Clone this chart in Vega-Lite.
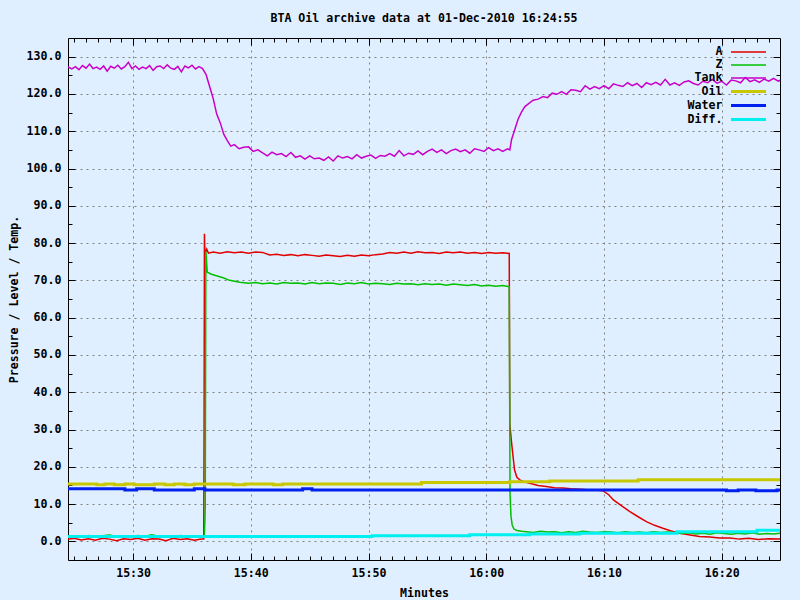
{
"$schema": "https://vega.github.io/schema/vega-lite/v6.json",
"autosize": {"type": "none"},
"width": 712, "height": 522,
"padding": {"left": 68, "top": 38, "right": 20, "bottom": 40},
"background": "#e0efff",
"title": {"text": "BTA Oil archive data at 01-Dec-2010 16:24:55", "font": "DejaVu Sans Mono", "fontSize": 11.6, "fontWeight": "bold", "color": "black", "offset": 4, "baseline": "alphabetic", "anchor": "middle"},
"config": {
  "view": {"stroke": null},
  "axis": {"domainColor": "black", "domainWidth": 1, "tickColor": "black", "tickWidth": 1,
    "labelFont": "DejaVu Sans Mono", "labelFontSize": 11.6, "labelFontWeight": "bold", "labelColor": "black",
    "titleFont": "DejaVu Sans Mono", "titleFontSize": 11.6, "titleFontWeight": "bold", "titleColor": "black",
    "gridColor": "#808080", "gridDash": [2, 4], "gridWidth": 1,
    "labelOverlap": false, "labelBound": false, "labelFlush": false}
},
"data": {"values": [
{"s":"A","m":24.4,"v":0.5},{"s":"A","m":25.0,"v":0.8},{"s":"A","m":25.6,"v":0.4},{"s":"A","m":26.2,"v":0.7},{"s":"A","m":26.8,"v":0.3},{"s":"A","m":27.4,"v":0.8},{"s":"A","m":28.0,"v":0.6},{"s":"A","m":28.6,"v":0.2},{"s":"A","m":29.2,"v":0.7},{"s":"A","m":29.8,"v":0.5},{"s":"A","m":30.4,"v":0.8},{"s":"A","m":31.0,"v":0.3},{"s":"A","m":31.6,"v":0.7},{"s":"A","m":32.2,"v":0.6},{"s":"A","m":32.8,"v":0.2},{"s":"A","m":33.4,"v":0.8},{"s":"A","m":34.0,"v":0.5},{"s":"A","m":34.6,"v":0.7},{"s":"A","m":35.2,"v":0.3},{"s":"A","m":35.8,"v":0.6},{"s":"A","m":36.0,"v":0.6},{"s":"A","m":36.03,"v":30.0},{"s":"A","m":36.06,"v":82.5},{"s":"A","m":36.1,"v":76.9},{"s":"A","m":36.25,"v":78.4},{"s":"A","m":36.4,"v":77.3},{"s":"A","m":36.8,"v":77.6},{"s":"A","m":37.4,"v":77.3},{"s":"A","m":38.0,"v":77.7},{"s":"A","m":38.6,"v":77.4},{"s":"A","m":39.2,"v":77.6},{"s":"A","m":39.8,"v":77.3},{"s":"A","m":40.4,"v":77.6},{"s":"A","m":41.0,"v":77.5},{"s":"A","m":41.6,"v":76.8},{"s":"A","m":42.2,"v":77.0},{"s":"A","m":42.8,"v":76.7},{"s":"A","m":43.4,"v":76.9},{"s":"A","m":44.0,"v":76.6},{"s":"A","m":44.6,"v":76.9},{"s":"A","m":45.2,"v":76.7},{"s":"A","m":45.8,"v":76.5},{"s":"A","m":46.4,"v":76.8},{"s":"A","m":47.0,"v":76.6},{"s":"A","m":47.6,"v":76.4},{"s":"A","m":48.2,"v":76.7},{"s":"A","m":48.8,"v":76.5},{"s":"A","m":49.4,"v":76.8},{"s":"A","m":50.0,"v":76.6},{"s":"A","m":50.6,"v":76.9},{"s":"A","m":51.2,"v":77.1},{"s":"A","m":51.8,"v":77.5},{"s":"A","m":52.4,"v":77.3},{"s":"A","m":53.0,"v":77.6},{"s":"A","m":53.6,"v":77.3},{"s":"A","m":54.2,"v":77.7},{"s":"A","m":54.8,"v":77.4},{"s":"A","m":55.4,"v":77.5},{"s":"A","m":56.0,"v":77.2},{"s":"A","m":56.6,"v":77.6},{"s":"A","m":57.2,"v":77.4},{"s":"A","m":57.8,"v":77.6},{"s":"A","m":58.4,"v":77.3},{"s":"A","m":59.0,"v":77.5},{"s":"A","m":59.6,"v":77.2},{"s":"A","m":60.2,"v":77.5},{"s":"A","m":60.8,"v":77.3},{"s":"A","m":61.4,"v":77.4},{"s":"A","m":61.95,"v":77.2},{"s":"A","m":62.0,"v":31.3},{"s":"A","m":62.15,"v":26.4},{"s":"A","m":62.4,"v":19.2},{"s":"A","m":62.6,"v":17.2},{"s":"A","m":62.85,"v":16.5},{"s":"A","m":63.3,"v":15.9},{"s":"A","m":63.7,"v":15.6},{"s":"A","m":64.4,"v":15.0},{"s":"A","m":65.1,"v":14.7},{"s":"A","m":65.8,"v":14.4},{"s":"A","m":66.5,"v":14.3},{"s":"A","m":67.2,"v":14.1},{"s":"A","m":68.0,"v":14.0},{"s":"A","m":68.8,"v":13.8},{"s":"A","m":69.5,"v":13.7},{"s":"A","m":69.9,"v":13.6},{"s":"A","m":70.4,"v":12.5},{"s":"A","m":70.8,"v":11.1},{"s":"A","m":71.5,"v":9.5},{"s":"A","m":72.2,"v":8.0},{"s":"A","m":72.9,"v":6.6},{"s":"A","m":73.6,"v":5.3},{"s":"A","m":74.3,"v":4.3},{"s":"A","m":75.0,"v":3.5},{"s":"A","m":75.7,"v":2.8},{"s":"A","m":76.45,"v":2.2},{"s":"A","m":77.2,"v":1.8},{"s":"A","m":78.1,"v":1.3},{"s":"A","m":79.0,"v":1.2},{"s":"A","m":79.8,"v":0.9},{"s":"A","m":80.7,"v":0.9},{"s":"A","m":81.5,"v":0.6},{"s":"A","m":82.3,"v":0.8},{"s":"A","m":83.1,"v":0.5},{"s":"A","m":84.0,"v":0.7},{"s":"A","m":85.0,"v":0.6},
{"s":"Z","m":24.4,"v":1.3},{"s":"Z","m":25.0,"v":1.5},{"s":"Z","m":25.6,"v":1.2},{"s":"Z","m":26.2,"v":1.6},{"s":"Z","m":26.8,"v":1.3},{"s":"Z","m":27.4,"v":1.5},{"s":"Z","m":28.0,"v":1.7},{"s":"Z","m":28.6,"v":1.3},{"s":"Z","m":29.2,"v":1.5},{"s":"Z","m":29.8,"v":1.2},{"s":"Z","m":30.4,"v":1.6},{"s":"Z","m":31.0,"v":1.4},{"s":"Z","m":31.6,"v":1.8},{"s":"Z","m":32.2,"v":1.3},{"s":"Z","m":32.8,"v":1.5},{"s":"Z","m":33.4,"v":1.2},{"s":"Z","m":34.0,"v":1.6},{"s":"Z","m":34.6,"v":1.4},{"s":"Z","m":35.2,"v":1.5},{"s":"Z","m":35.8,"v":1.3},{"s":"Z","m":36.05,"v":1.4},{"s":"Z","m":36.1,"v":5.3},{"s":"Z","m":36.13,"v":9.8},{"s":"Z","m":36.18,"v":77.8},{"s":"Z","m":36.3,"v":72.2},{"s":"Z","m":36.6,"v":71.7},{"s":"Z","m":37.0,"v":71.3},{"s":"Z","m":37.65,"v":70.7},{"s":"Z","m":38.2,"v":70.0},{"s":"Z","m":39.07,"v":69.5},{"s":"Z","m":39.8,"v":69.2},{"s":"Z","m":40.4,"v":69.4},{"s":"Z","m":41.0,"v":69.1},{"s":"Z","m":41.6,"v":69.3},{"s":"Z","m":42.2,"v":69.0},{"s":"Z","m":42.8,"v":69.4},{"s":"Z","m":43.4,"v":69.2},{"s":"Z","m":44.0,"v":69.3},{"s":"Z","m":44.6,"v":69.0},{"s":"Z","m":45.2,"v":69.4},{"s":"Z","m":45.8,"v":69.1},{"s":"Z","m":46.4,"v":69.3},{"s":"Z","m":47.0,"v":69.2},{"s":"Z","m":47.6,"v":68.9},{"s":"Z","m":48.2,"v":69.3},{"s":"Z","m":48.8,"v":69.1},{"s":"Z","m":49.4,"v":69.4},{"s":"Z","m":50.0,"v":69.0},{"s":"Z","m":50.6,"v":69.2},{"s":"Z","m":51.2,"v":69.1},{"s":"Z","m":51.8,"v":68.9},{"s":"Z","m":52.4,"v":69.2},{"s":"Z","m":53.0,"v":69.0},{"s":"Z","m":53.6,"v":69.1},{"s":"Z","m":54.2,"v":68.8},{"s":"Z","m":54.8,"v":69.1},{"s":"Z","m":55.4,"v":68.9},{"s":"Z","m":56.0,"v":69.0},{"s":"Z","m":56.6,"v":68.7},{"s":"Z","m":57.2,"v":69.0},{"s":"Z","m":57.8,"v":68.8},{"s":"Z","m":58.4,"v":68.6},{"s":"Z","m":59.0,"v":68.9},{"s":"Z","m":59.6,"v":68.5},{"s":"Z","m":60.2,"v":68.7},{"s":"Z","m":60.8,"v":68.4},{"s":"Z","m":61.4,"v":68.6},{"s":"Z","m":61.95,"v":68.3},{"s":"Z","m":62.02,"v":12.5},{"s":"Z","m":62.1,"v":6.7},{"s":"Z","m":62.2,"v":4.4},{"s":"Z","m":62.35,"v":3.3},{"s":"Z","m":62.6,"v":2.9},{"s":"Z","m":63.0,"v":2.7},{"s":"Z","m":63.4,"v":2.6},{"s":"Z","m":64.0,"v":2.4},{"s":"Z","m":64.6,"v":2.7},{"s":"Z","m":65.2,"v":2.5},{"s":"Z","m":65.8,"v":2.6},{"s":"Z","m":66.4,"v":2.3},{"s":"Z","m":67.0,"v":2.6},{"s":"Z","m":67.6,"v":2.4},{"s":"Z","m":68.2,"v":2.7},{"s":"Z","m":68.8,"v":2.5},{"s":"Z","m":69.4,"v":2.4},{"s":"Z","m":70.0,"v":2.6},{"s":"Z","m":70.6,"v":2.5},{"s":"Z","m":71.2,"v":2.3},{"s":"Z","m":71.8,"v":2.6},{"s":"Z","m":72.4,"v":2.4},{"s":"Z","m":73.0,"v":2.5},{"s":"Z","m":73.6,"v":2.3},{"s":"Z","m":74.2,"v":2.6},{"s":"Z","m":74.8,"v":2.4},{"s":"Z","m":75.4,"v":2.5},{"s":"Z","m":76.0,"v":2.3},{"s":"Z","m":76.6,"v":2.1},{"s":"Z","m":77.2,"v":2.3},{"s":"Z","m":77.8,"v":2.0},{"s":"Z","m":78.4,"v":2.2},{"s":"Z","m":79.0,"v":1.9},{"s":"Z","m":79.6,"v":2.3},{"s":"Z","m":80.2,"v":2.1},{"s":"Z","m":80.8,"v":1.9},{"s":"Z","m":81.4,"v":2.2},{"s":"Z","m":82.0,"v":2.0},{"s":"Z","m":82.6,"v":2.3},{"s":"Z","m":83.2,"v":1.9},{"s":"Z","m":83.8,"v":2.1},{"s":"Z","m":84.4,"v":2.0},{"s":"Z","m":85.0,"v":2.2},
{"s":"Tank","m":24.4,"v":127.4},{"s":"Tank","m":24.8,"v":126.7},{"s":"Tank","m":25.1,"v":127.3},{"s":"Tank","m":25.4,"v":126.5},{"s":"Tank","m":25.7,"v":127.6},{"s":"Tank","m":26.0,"v":126.9},{"s":"Tank","m":26.3,"v":128.0},{"s":"Tank","m":26.6,"v":126.8},{"s":"Tank","m":26.9,"v":127.2},{"s":"Tank","m":27.2,"v":126.6},{"s":"Tank","m":27.5,"v":127.5},{"s":"Tank","m":27.8,"v":126.1},{"s":"Tank","m":28.1,"v":127.4},{"s":"Tank","m":28.4,"v":126.9},{"s":"Tank","m":28.7,"v":127.7},{"s":"Tank","m":29.0,"v":126.7},{"s":"Tank","m":29.3,"v":127.3},{"s":"Tank","m":29.6,"v":128.5},{"s":"Tank","m":29.9,"v":126.8},{"s":"Tank","m":30.2,"v":127.5},{"s":"Tank","m":30.5,"v":126.6},{"s":"Tank","m":30.8,"v":127.2},{"s":"Tank","m":31.1,"v":126.8},{"s":"Tank","m":31.4,"v":127.6},{"s":"Tank","m":31.7,"v":126.3},{"s":"Tank","m":32.0,"v":127.3},{"s":"Tank","m":32.3,"v":127.5},{"s":"Tank","m":32.6,"v":126.8},{"s":"Tank","m":32.9,"v":127.8},{"s":"Tank","m":33.2,"v":126.9},{"s":"Tank","m":33.5,"v":126.6},{"s":"Tank","m":33.8,"v":127.4},{"s":"Tank","m":34.1,"v":125.9},{"s":"Tank","m":34.4,"v":127.5},{"s":"Tank","m":34.7,"v":127.0},{"s":"Tank","m":35.0,"v":127.7},{"s":"Tank","m":35.3,"v":126.7},{"s":"Tank","m":35.6,"v":127.3},{"s":"Tank","m":35.9,"v":126.8},
{"s":"Tank","m":36.2,"v":125.2},{"s":"Tank","m":36.5,"v":122.0},{"s":"Tank","m":36.8,"v":118.8},{"s":"Tank","m":37.1,"v":114.6},{"s":"Tank","m":37.4,"v":112.3},{"s":"Tank","m":37.7,"v":109.2},{"s":"Tank","m":38.0,"v":107.5},{"s":"Tank","m":38.3,"v":106.0},
{"s":"Tank","m":38.6,"v":106.4},{"s":"Tank","m":39.0,"v":105.3},{"s":"Tank","m":39.4,"v":105.7},{"s":"Tank","m":39.8,"v":105.8},{"s":"Tank","m":40.2,"v":104.6},{"s":"Tank","m":40.6,"v":105.0},{"s":"Tank","m":41.0,"v":104.2},{"s":"Tank","m":41.4,"v":103.4},{"s":"Tank","m":41.8,"v":104.4},{"s":"Tank","m":42.2,"v":103.7},{"s":"Tank","m":42.6,"v":104.0},{"s":"Tank","m":43.0,"v":103.2},{"s":"Tank","m":43.4,"v":104.3},{"s":"Tank","m":43.8,"v":103.0},{"s":"Tank","m":44.2,"v":103.4},{"s":"Tank","m":44.6,"v":102.5},{"s":"Tank","m":45.0,"v":103.4},{"s":"Tank","m":45.4,"v":102.6},{"s":"Tank","m":45.8,"v":102.8},{"s":"Tank","m":46.2,"v":102.2},{"s":"Tank","m":46.6,"v":103.1},{"s":"Tank","m":47.0,"v":102.0},{"s":"Tank","m":47.4,"v":103.4},{"s":"Tank","m":47.8,"v":102.8},{"s":"Tank","m":48.2,"v":103.2},{"s":"Tank","m":48.6,"v":102.6},{"s":"Tank","m":49.0,"v":103.7},{"s":"Tank","m":49.4,"v":102.8},{"s":"Tank","m":49.8,"v":103.3},{"s":"Tank","m":50.2,"v":103.6},{"s":"Tank","m":50.6,"v":102.7},{"s":"Tank","m":51.0,"v":103.5},{"s":"Tank","m":51.4,"v":103.3},{"s":"Tank","m":51.8,"v":104.0},{"s":"Tank","m":52.2,"v":103.3},{"s":"Tank","m":52.6,"v":104.8},{"s":"Tank","m":53.0,"v":103.4},{"s":"Tank","m":53.4,"v":104.1},{"s":"Tank","m":53.8,"v":103.8},{"s":"Tank","m":54.2,"v":104.7},{"s":"Tank","m":54.6,"v":103.7},{"s":"Tank","m":55.0,"v":104.6},{"s":"Tank","m":55.4,"v":105.2},{"s":"Tank","m":55.8,"v":104.3},{"s":"Tank","m":56.2,"v":105.0},{"s":"Tank","m":56.6,"v":104.0},{"s":"Tank","m":57.0,"v":104.8},{"s":"Tank","m":57.4,"v":105.2},{"s":"Tank","m":57.8,"v":104.5},{"s":"Tank","m":58.2,"v":105.0},{"s":"Tank","m":58.6,"v":104.1},{"s":"Tank","m":59.0,"v":105.3},{"s":"Tank","m":59.4,"v":105.0},{"s":"Tank","m":59.8,"v":104.6},{"s":"Tank","m":60.2,"v":105.6},{"s":"Tank","m":60.6,"v":104.8},{"s":"Tank","m":61.0,"v":105.3},{"s":"Tank","m":61.4,"v":104.6},{"s":"Tank","m":61.8,"v":105.3},
{"s":"Tank","m":62.0,"v":105.0},{"s":"Tank","m":62.15,"v":107.8},{"s":"Tank","m":62.43,"v":110.5},{"s":"Tank","m":62.7,"v":113.2},{"s":"Tank","m":63.0,"v":115.2},{"s":"Tank","m":63.28,"v":116.6},{"s":"Tank","m":63.6,"v":117.4},{"s":"Tank","m":63.98,"v":118.3},{"s":"Tank","m":64.4,"v":118.6},{"s":"Tank","m":64.83,"v":119.3},
{"s":"Tank","m":65.2,"v":119.0},{"s":"Tank","m":65.6,"v":120.2},{"s":"Tank","m":66.0,"v":119.9},{"s":"Tank","m":66.4,"v":120.6},{"s":"Tank","m":66.8,"v":119.9},{"s":"Tank","m":67.2,"v":121.1},{"s":"Tank","m":67.6,"v":121.0},{"s":"Tank","m":68.0,"v":120.6},{"s":"Tank","m":68.4,"v":122.2},{"s":"Tank","m":68.8,"v":121.3},{"s":"Tank","m":69.2,"v":122.0},{"s":"Tank","m":69.6,"v":121.4},{"s":"Tank","m":70.0,"v":122.2},{"s":"Tank","m":70.4,"v":121.4},{"s":"Tank","m":70.8,"v":122.7},{"s":"Tank","m":71.2,"v":122.3},{"s":"Tank","m":71.6,"v":122.0},{"s":"Tank","m":72.0,"v":123.0},{"s":"Tank","m":72.4,"v":122.2},{"s":"Tank","m":72.8,"v":122.8},{"s":"Tank","m":73.2,"v":121.7},{"s":"Tank","m":73.6,"v":123.0},{"s":"Tank","m":74.0,"v":122.5},{"s":"Tank","m":74.4,"v":123.1},{"s":"Tank","m":74.8,"v":122.4},{"s":"Tank","m":75.2,"v":123.9},{"s":"Tank","m":75.6,"v":122.4},{"s":"Tank","m":76.0,"v":123.0},{"s":"Tank","m":76.4,"v":122.3},{"s":"Tank","m":76.8,"v":123.2},{"s":"Tank","m":77.2,"v":123.5},{"s":"Tank","m":77.6,"v":122.8},{"s":"Tank","m":78.0,"v":122.4},{"s":"Tank","m":78.4,"v":123.4},{"s":"Tank","m":78.8,"v":123.0},{"s":"Tank","m":79.2,"v":123.9},{"s":"Tank","m":79.6,"v":122.9},{"s":"Tank","m":80.0,"v":123.4},{"s":"Tank","m":80.4,"v":122.4},{"s":"Tank","m":80.8,"v":123.7},{"s":"Tank","m":81.2,"v":123.5},{"s":"Tank","m":81.6,"v":123.0},{"s":"Tank","m":82.0,"v":124.4},{"s":"Tank","m":82.4,"v":123.3},{"s":"Tank","m":82.8,"v":123.8},{"s":"Tank","m":83.2,"v":123.1},{"s":"Tank","m":83.6,"v":124.0},{"s":"Tank","m":84.0,"v":123.4},{"s":"Tank","m":84.4,"v":124.2},{"s":"Tank","m":84.8,"v":123.4},{"s":"Tank","m":85.0,"v":123.7},
{"s":"Oil","m":24.4,"v":15.4},{"s":"Oil","m":26.9,"v":15.2},{"s":"Oil","m":27.6,"v":15.4},{"s":"Oil","m":28.4,"v":15.2},{"s":"Oil","m":29.3,"v":15.4},{"s":"Oil","m":30.1,"v":15.2},{"s":"Oil","m":31.8,"v":15.4},{"s":"Oil","m":32.7,"v":15.2},{"s":"Oil","m":33.5,"v":15.4},{"s":"Oil","m":34.4,"v":15.2},{"s":"Oil","m":35.2,"v":15.4},{"s":"Oil","m":38.5,"v":15.2},{"s":"Oil","m":39.5,"v":15.4},{"s":"Oil","m":41.9,"v":15.2},{"s":"Oil","m":42.7,"v":15.4},{"s":"Oil","m":54.5,"v":15.8},{"s":"Oil","m":62.0,"v":16.0},{"s":"Oil","m":65.4,"v":16.2},{"s":"Oil","m":72.9,"v":16.5},{"s":"Oil","m":85.0,"v":16.5},
{"s":"Water","m":24.4,"v":14.1},{"s":"Water","m":29.3,"v":13.8},{"s":"Water","m":30.3,"v":14.1},{"s":"Water","m":31.8,"v":13.8},{"s":"Water","m":35.2,"v":14.1},{"s":"Water","m":36.1,"v":13.8},{"s":"Water","m":44.4,"v":14.1},{"s":"Water","m":45.2,"v":13.8},{"s":"Water","m":80.4,"v":13.6},{"s":"Water","m":81.4,"v":13.8},{"s":"Water","m":82.9,"v":13.6},{"s":"Water","m":84.7,"v":13.8},{"s":"Water","m":85.0,"v":13.8},
{"s":"Diff.","m":24.4,"v":1.3},{"s":"Diff.","m":50.3,"v":1.5},{"s":"Diff.","m":58.6,"v":1.75},{"s":"Diff.","m":63.7,"v":2.0},{"s":"Diff.","m":67.95,"v":2.2},{"s":"Diff.","m":76.2,"v":2.6},{"s":"Diff.","m":83.0,"v":3.0},{"s":"Diff.","m":85.0,"v":3.0}
]},
"encoding": {
  "color": {"field": "s", "type": "nominal",
    "scale": {"domain": ["A","Z","Tank","Oil","Water","Diff."], "range": ["#e00000","#00c000","#c800c8","#c8c800","#0020f0","#00f0f0"]},
    "legend": {"title": null, "orient": "top-right", "offset": 8, "padding": 0, "symbolType": "M-3.5,0H3.5", "symbolSize": 100, "symbolOpacity": 1,
      "labelFont": "DejaVu Sans Mono", "labelFontSize": 11.6, "labelFontWeight": "bold", "labelColor": "black", "labelAlign": "right", "labelOffset": -32.5, "rowPadding": 1}},
  "strokeWidth": {"field": "s", "type": "nominal",
    "scale": {"type": "ordinal", "domain": ["A","Z","Tank","Oil","Water","Diff."], "range": [1.5,1.5,1.5,3,3,3]},
    "legend": {"title": null, "orient": "top-right", "offset": 8, "padding": 0, "symbolType": "M-3.5,0H3.5", "symbolSize": 100, "symbolOpacity": 1,
      "labelFont": "DejaVu Sans Mono", "labelFontSize": 11.6, "labelFontWeight": "bold", "labelColor": "black", "labelAlign": "right", "labelOffset": -32.5, "rowPadding": 1}}
},
"layer": [
  {
    "transform": [{"filter": {"field": "s", "oneOf": ["A","Z","Tank"]}}],
    "mark": {"type": "line", "clip": true},
    "encoding": {
      "x": {"field": "m", "type": "quantitative", "scale": {"domain": [24.47, 84.95], "nice": false, "zero": false},
        "axis": {"orient": "bottom", "title": "Minutes", "values": [25,26,27,28,29,30,31,32,33,34,35,36,37,38,39,40,41,42,43,44,45,46,47,48,49,50,51,52,53,54,55,56,57,58,59,60,61,62,63,64,65,66,67,68,69,70,71,72,73,74,75,76,77,78,79,80,81,82,83,84],
          "labelExpr": "datum.value % 10 === 0 ? (floor(datum.value/60)+15) + ':' + (datum.value % 60 < 10 ? '0' : '') + (datum.value % 60) : ''",
          "tickSize": {"condition": {"test": "datum.value % 10 === 0", "value": -7}, "value": -4},
          "grid": true, "gridOpacity": {"condition": {"test": "datum.value % 10 === 0", "value": 1}, "value": 0},
          "labelPadding": 14, "titlePadding": 6}},
      "y": {"field": "v", "type": "quantitative", "scale": {"domain": [-5, 135], "nice": false, "zero": false},
        "axis": {"orient": "left", "title": "Pressure / Level / Temp.", "values": [0,5,10,15,20,25,30,35,40,45,50,55,60,65,70,75,80,85,90,95,100,105,110,115,120,125,130],
          "labelExpr": "datum.value % 10 === 0 ? format(datum.value, '.1f') : ''",
          "tickSize": {"condition": {"test": "datum.value % 10 === 0", "value": -7}, "value": -4},
          "grid": true, "gridOpacity": {"condition": {"test": "datum.value % 10 === 0", "value": 1}, "value": 0},
          "labelPadding": 14, "titlePadding": 7}}
    }
  },
  {
    "transform": [{"filter": {"field": "s", "oneOf": ["Oil","Water","Diff."]}}],
    "mark": {"type": "line", "interpolate": "step-after", "clip": true},
    "encoding": {
      "x": {"field": "m", "type": "quantitative", "scale": {"domain": [24.47, 84.95], "nice": false, "zero": false},
        "axis": {"orient": "top", "title": null, "labels": false, "grid": false, "values": [25,26,27,28,29,30,31,32,33,34,35,36,37,38,39,40,41,42,43,44,45,46,47,48,49,50,51,52,53,54,55,56,57,58,59,60,61,62,63,64,65,66,67,68,69,70,71,72,73,74,75,76,77,78,79,80,81,82,83,84],
          "tickSize": {"condition": {"test": "datum.value % 10 === 0", "value": -7}, "value": -4}}},
      "y": {"field": "v", "type": "quantitative", "scale": {"domain": [-5, 135], "nice": false, "zero": false},
        "axis": {"orient": "right", "title": null, "labels": false, "grid": false, "values": [0,5,10,15,20,25,30,35,40,45,50,55,60,65,70,75,80,85,90,95,100,105,110,115,120,125,130],
          "tickSize": {"condition": {"test": "datum.value % 10 === 0", "value": -7}, "value": -4}}}
    }
  }
]
}
